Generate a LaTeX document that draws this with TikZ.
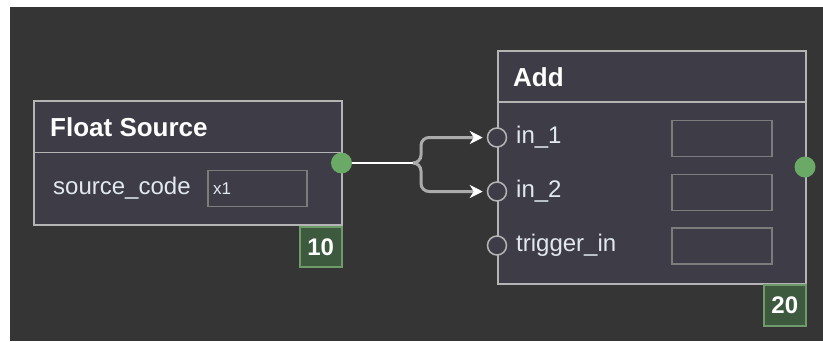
\documentclass[tikz,border=0pt]{standalone}
\usepackage{fontspec}
\setmainfont{Liberation Sans}
\usetikzlibrary{arrows.meta}
\definecolor{bgdark}{HTML}{353535}
\definecolor{nodefill}{HTML}{3E3D47}
\definecolor{nodeedge}{HTML}{B4B4B4}
\definecolor{boxedge}{HTML}{7C7C7C}
\definecolor{portgreen}{HTML}{6AAA66}
\definecolor{badgefill}{HTML}{3D5A3E}
\definecolor{badgeedge}{HTML}{6E9A6C}
\definecolor{labeltext}{HTML}{E2E8F0}
\definecolor{branchgray}{HTML}{ABABAB}
\tikzset{
  nodebox/.style={draw=nodeedge, fill=nodefill, line width=1.5pt, anchor=north west, inner sep=0pt},
  titletext/.style={anchor=west, inner sep=0pt, text=white, font=\fontsize{26}{30}\selectfont\bfseries},
  labeltxt/.style={anchor=west, inner sep=0pt, text=labeltext, font=\fontsize{24}{28}\selectfont},
  valuebox/.style={draw=boxedge, line width=1.2pt, minimum width=99pt, minimum height=36pt, inner sep=0pt},
  outport/.style={circle, fill=portgreen, minimum size=21pt, inner sep=0pt},
  inport/.style={circle, draw=nodeedge, fill=nodefill, line width=1.5pt, minimum size=19pt, inner sep=0pt},
  badge/.style={draw=badgeedge, fill=badgefill, line width=1.5pt, anchor=north west, inner sep=0pt, text=white, font=\fontsize{24}{28}\selectfont\bfseries},
  mainwire/.style={draw=white, line width=1.5pt},
  branchwire/.style={draw=branchgray, line width=3pt, rounded corners=8pt, shorten >=4pt,
    -{Stealth[length=13pt, width=13pt, inset=4pt, fill=white, color=white]}},
}
\begin{document}
\begin{tikzpicture}[x=1pt, y=-1pt]
\useasboundingbox (0,0) rectangle (823,341);
\fill[white] (0,0) rectangle (823,341);
\fill[bgdark] (10,7) rectangle (823,341);

% Float Source node
\node[nodebox, minimum width=308pt, minimum height=124pt] (fs) at (33,100) {};
\draw[nodeedge, line width=1.5pt] (33,152.5) coordinate (fsh1) -- (341,152.5) coordinate (fsh2);
\node[titletext] (fstitle) at (50,127) {Float Source};
\node[labeltxt] (fslabel) at (53,188.5) {source\_code};
\node[valuebox] (fsbox) at (257.5,188.5) {};
\node[anchor=west, inner sep=0pt, text=labeltext, font=\fontsize{17}{20}\selectfont] (fsval) at (213,189) {x1};
\node[outport] (fsout) at (341.5,163) {};
\node[badge, minimum width=42pt, minimum height=40pt] (b10) at (299,226) {10};

% Add node
\node[nodebox, minimum width=308pt, minimum height=233pt] (add) at (497,50) {};
\draw[nodeedge, line width=1.5pt] (497,102) coordinate (adh1) -- (805,102) coordinate (adh2);
\node[titletext] (addtitle) at (513,77) {Add};
\node[inport] (in1) at (497,137.5) {};
\node[inport] (in2) at (497,191.5) {};
\node[inport] (trig) at (497,245.5) {};
\node[labeltxt] (l1) at (516,137.5) {in\_1};
\node[labeltxt] (l2) at (516,191.5) {in\_2};
\node[labeltxt] (l3) at (516,245.5) {trigger\_in};
\node[valuebox, minimum width=100pt] (box1) at (722,138.5) {};
\node[valuebox, minimum width=100pt] (box2) at (722,192.5) {};
\node[valuebox, minimum width=100pt] (box3) at (722,246) {};
\node[outport] (addout) at (805,167) {};
\node[badge, minimum width=42pt, minimum height=41pt] (b20) at (763,284) {20};

% Connectors
\coordinate (split) at (413,163);
\draw[branchwire] (split) -| (421,137.5) -- (in1.west);
\draw[branchwire] (split) -| (421,191.5) -- (in2.west);
\draw[mainwire] (fsout.east) -- (split);
\end{tikzpicture}
\end{document}
